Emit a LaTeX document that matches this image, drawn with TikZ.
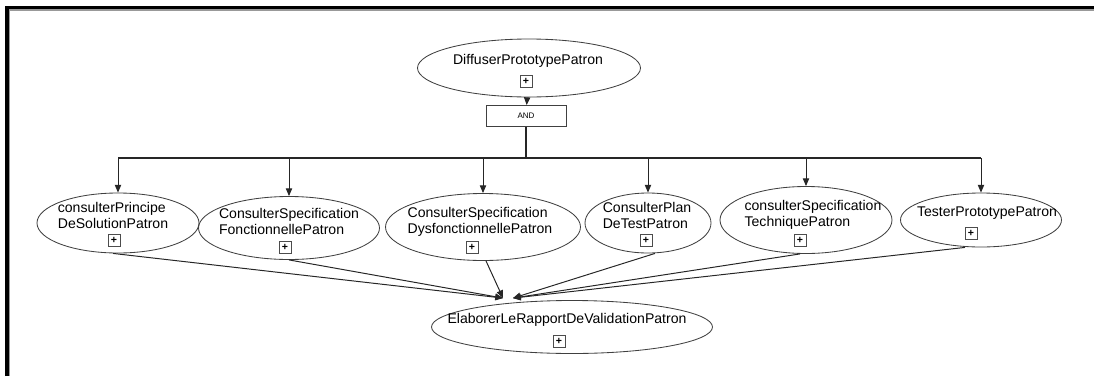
\documentclass[tikz,border=0pt]{standalone}
\usepackage{fontspec}
\setmainfont{Liberation Sans}
\usetikzlibrary{arrows.meta,shapes.geometric}
\newcommand{\px}{0.025cm}
\begin{document}
\begin{tikzpicture}[x=0.025cm, y=-0.025cm,
    task/.style={draw=black!75, ellipse, line width=0.6pt, inner sep=0pt},
    tasktext/.style={align=left, inner sep=0pt,
                     font=\fontsize{10}{11.4}\selectfont},
    plusbox/.style={draw=black!70, fill=white, line width=0.5pt,
                    minimum size=12*\px, inner sep=0pt,
                    font=\fontsize{7.5}{7.5}\selectfont\bfseries},
    gate/.style={draw=black!75, line width=0.6pt, minimum width=80*\px,
                 minimum height=21*\px, font=\fontsize{5.7}{7}\selectfont},
    arr/.style={-{Triangle[length=5.5pt,width=4.5pt]}, line width=0.7pt,
                draw=black!85}
]
  \useasboundingbox (0,0) rectangle (1094,376);

  % Frame
  \draw[black!40, line width=1pt] (9.5,376) -- (9.5,10) -- (1094,10);
  \draw[line width=2.2pt] (7,376) -- (7,7.5) -- (1094,7.5);

  % Root task
  \node[task, minimum width=223*\px, minimum height=58*\px] (root) at (529,68) {};
  \node[tasktext] (roottxt) at (528,61) {DiffuserPrototypePatron};
  \node[plusbox] (rootplus) at (526,81) {+};

  % AND gate
  \node[gate] (and) at (526,116) {AND};
  \draw[arr] (root) -- (and);

  % Sub tasks
  \node[task, minimum width=162*\px, minimum height=60*\px] (c1) at (118,223) {};
  \node[tasktext] (c1txt) at (113,215) {consulterPrincipe\\DeSolutionPatron};
  \node[plusbox] (c1plus) at (114,240) {+};

  \node[task, minimum width=181*\px, minimum height=63*\px] (c2) at (289,228) {};
  \node[tasktext] (c2txt) at (289,221) {ConsulterSpecification\\FonctionnellePatron};
  \node[plusbox] (c2plus) at (285,247) {+};

  \node[task, minimum width=195*\px, minimum height=67*\px] (c3) at (483,227) {};
  \node[tasktext] (c3txt) at (480,222) {ConsulterSpecification\\DysfonctionnellePatron};
  \node[plusbox] (c3plus) at (472,247) {+};

  \node[task, minimum width=126*\px, minimum height=60*\px] (c4) at (648,223) {};
  \node[tasktext] (c4txt) at (647,215) {ConsulterPlan\\DeTestPatron};
  \node[plusbox] (c4plus) at (646,240) {+};

  \node[task, minimum width=172*\px, minimum height=67*\px] (c5) at (806,220) {};
  \node[tasktext] (c5txt) at (813,215) {consulterSpecification\\TechniquePatron};
  \node[plusbox] (c5plus) at (800,240) {+};

  \node[task, minimum width=161*\px, minimum height=54*\px] (c6) at (981,220) {};
  \node[tasktext] (c6txt) at (987,213) {TesterPrototypePatron};
  \node[plusbox] (c6plus) at (971,233) {+};

  % Final task
  \node[task, minimum width=281*\px, minimum height=53*\px] (elab) at (572,327) {};
  \node[tasktext] (elabtxt) at (567,320) {ElaborerLeRapportDeValidationPatron};
  \node[plusbox] (elabplus) at (559,341) {+};

  % Bus from the gate
  \coordinate (bus) at (526,158);
  \draw[black!85, line width=1pt] (c1.north |- bus) -- (c6.north |- bus);
  \draw[black!85, line width=2pt] (and.south) -- (bus) -- (c5.north |- bus);
  \draw[arr] (c1.north |- bus) -- (c1.north);
  \draw[arr] (c2.north |- bus) -- (c2.north);
  \draw[arr] (c3.north |- bus) -- (c3.north);
  \draw[arr] (c4.north |- bus) -- (c4.north);
  \draw[arr] (c5.north |- bus) -- (c5.north);
  \draw[arr] (c6.north |- bus) -- (c6.north);

  % Links to the report
  \coordinate (inL) at ([xshift=-69*\px, yshift=2*\px]elab.north);
  \coordinate (inR) at ([xshift=-59*\px, yshift=2*\px]elab.north);
  \draw[arr] ([xshift=-5*\px]c1.south) -- (inL);
  \draw[arr] (c2.south) -- (inL);
  \draw[arr] ([xshift=3*\px]c3.south) -- (inL);
  \draw[arr] ([xshift=7*\px]c4.south) -- (inR);
  \draw[arr] ([xshift=-6*\px]c5.south) -- (inR);
  \draw[arr] ([xshift=-16*\px]c6.south) -- (inR);
\end{tikzpicture}
\end{document}
